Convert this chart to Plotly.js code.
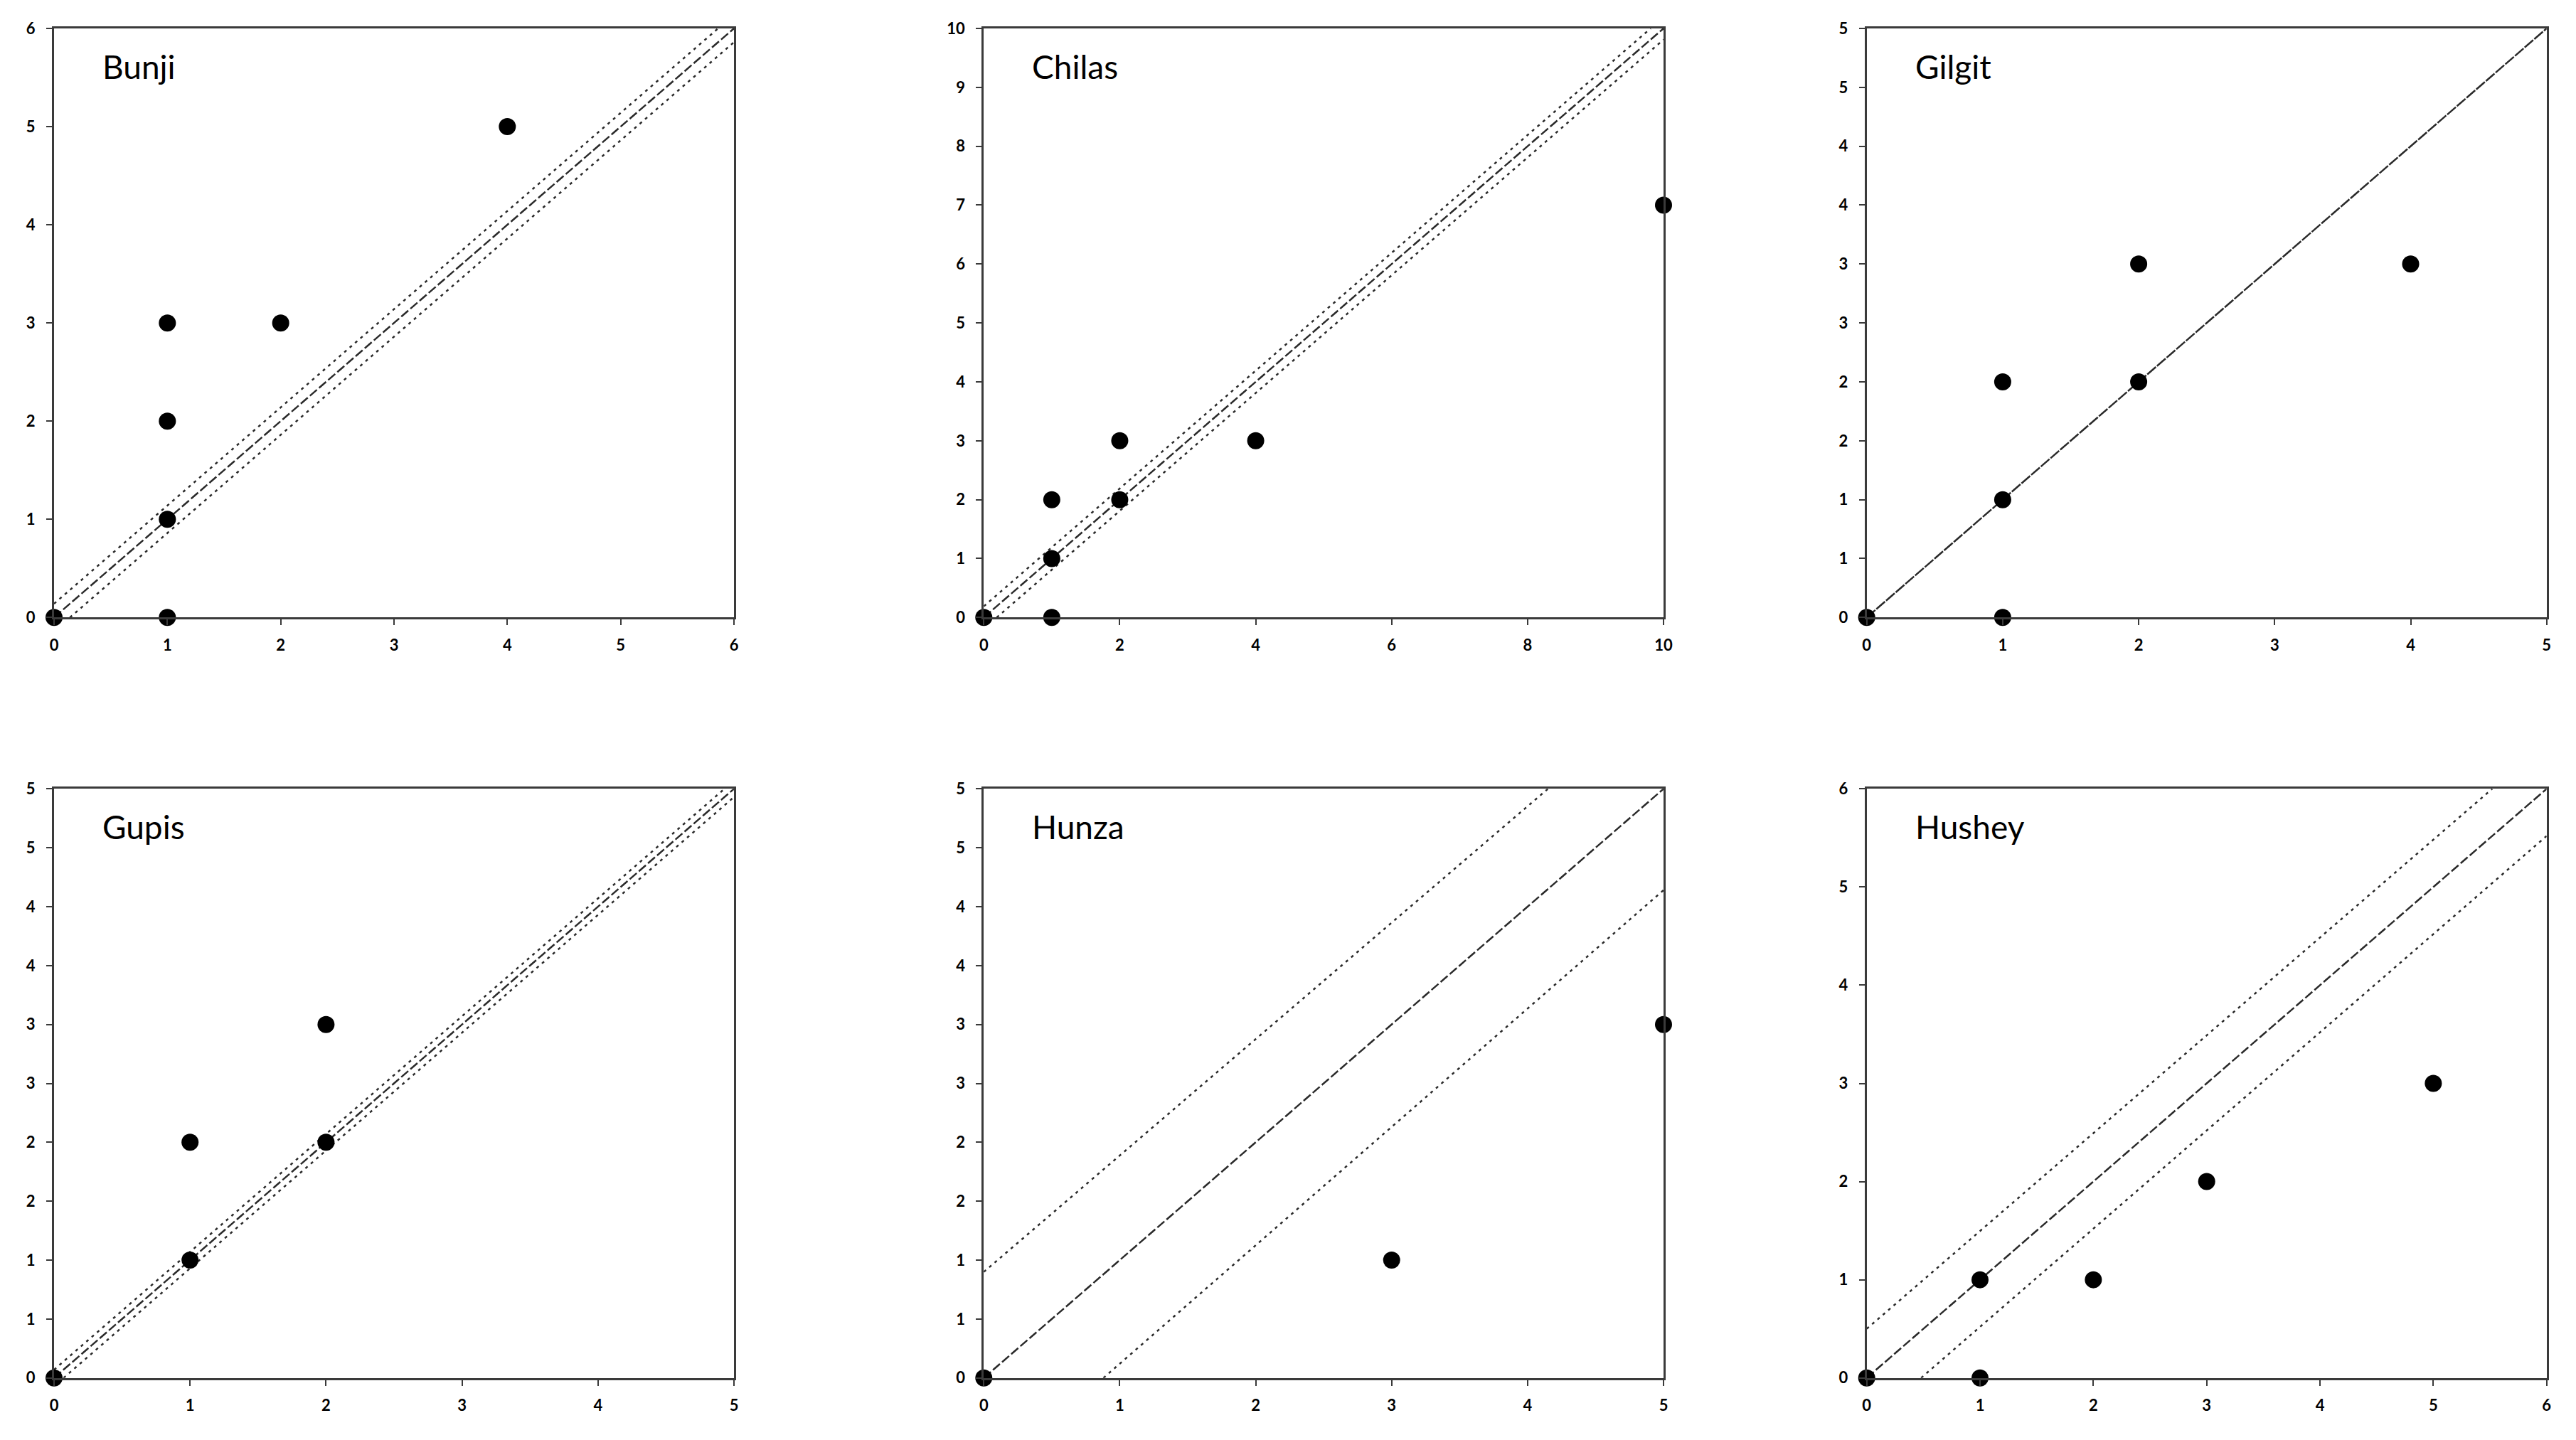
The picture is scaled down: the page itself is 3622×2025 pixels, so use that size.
<!DOCTYPE html>
<html>
<head>
<meta charset="utf-8">
<script src="https://cdn.plot.ly/plotly-3.0.1.min.js"></script>
<style>html,body{margin:0;padding:0;background:#fff;}#chart{width:3622px;height:2025px;}</style>
</head>
<body>
<div id="chart"></div>
<script>
// ---- Data ----
const stations = ["Bunji", "Chilas", "Gilgit", "Gupis", "Hunza", "Hushey"];

// observed points (x, y)
const bunjiX  = [0, 1, 1, 1, 1, 2, 4];
const bunjiY  = [0, 0, 1, 2, 3, 3, 5];
const chilasX = [0, 1, 1, 1, 2, 2, 4, 10];
const chilasY = [0, 0, 1, 2, 2, 3, 3, 7];
const gilgitX = [0, 1, 1, 1, 2, 2, 4];
const gilgitY = [0, 0, 1, 2, 2, 3, 3];
const gupisX  = [0, 1, 1, 2, 2];
const gupisY  = [0, 1, 2, 2, 3];
const hunzaX  = [0, 3, 5];
const hunzaY  = [0, 1, 3];
const husheyX = [0, 1, 1, 2, 3, 5];
const husheyY = [0, 0, 1, 1, 2, 3];

// 1:1 line endpoints and confidence-band endpoints (x0, y0, x1, y1)
const bunjiCenter  = [0, 0, 6, 6];
const bunjiUpper   = [0, 0.14, 5.86, 6];
const bunjiLower   = [0.14, 0, 6, 5.86];
const chilasCenter = [0, 0, 10, 10];
const chilasUpper  = [0, 0.19, 9.81, 10];
const chilasLower  = [0.19, 0, 10, 9.81];
const gilgitCenter = [0, 0, 5, 5];
const gupisCenter  = [0, 0, 5, 5];
const gupisUpper   = [0, 0.07, 4.93, 5];
const gupisLower   = [0.07, 0, 5, 4.93];
const hunzaCenter  = [0, 0, 5, 5];
const hunzaUpper   = [0, 0.9, 4.15, 5];
const hunzaLower   = [0.88, 0, 5, 4.14];
const husheyCenter = [0, 0, 6, 6];
const husheyUpper  = [0, 0.5, 5.52, 6];
const husheyLower  = [0.48, 0, 6, 5.52];

// axis ranges
const axisMax = [6, 10, 5, 5, 5, 6];

// tick values and labels
const ticks0to6    = [0, 1, 2, 3, 4, 5, 6];
const ticks0to10x  = [0, 2, 4, 6, 8, 10];
const ticks0to10y  = [0, 1, 2, 3, 4, 5, 6, 7, 8, 9, 10];
const ticks0to5    = [0, 1, 2, 3, 4, 5];
const halfTickVals = [0, 0.5, 1, 1.5, 2, 2.5, 3, 3.5, 4, 4.5, 5];
const halfTickText = ["0", "1", "1", "2", "2", "3", "3", "4", "4", "5", "5"];

// ---- Build figure ----
const panels = [
  {x: bunjiX,  y: bunjiY,  c: bunjiCenter,  u: bunjiUpper,  l: bunjiLower,  xt: ticks0to6,   yt: ticks0to6,    ytt: null},
  {x: chilasX, y: chilasY, c: chilasCenter, u: chilasUpper, l: chilasLower, xt: ticks0to10x, yt: ticks0to10y,  ytt: null},
  {x: gilgitX, y: gilgitY, c: gilgitCenter, u: null,        l: null,        xt: ticks0to5,   yt: halfTickVals, ytt: halfTickText, solidish: true},
  {x: gupisX,  y: gupisY,  c: gupisCenter,  u: gupisUpper,  l: gupisLower,  xt: ticks0to5,   yt: halfTickVals, ytt: halfTickText},
  {x: hunzaX,  y: hunzaY,  c: hunzaCenter,  u: hunzaUpper,  l: hunzaLower,  xt: ticks0to5,   yt: halfTickVals, ytt: halfTickText},
  {x: husheyX, y: husheyY, c: husheyCenter, u: husheyUpper, l: husheyLower, xt: ticks0to6,   yt: ticks0to6,    ytt: null}
];

const W = 3622, H = 2025;
const colPx = [[76, 1032], [1383.3, 2339], [2624.7, 3580.7]];
const rowPx = [[40, 868.3], [1109.3, 1937.7]];

const traces = [];
const layout = {
  width: W, height: H,
  margin: {l: 0, r: 0, t: 0, b: 0},
  paper_bgcolor: "#ffffff",
  plot_bgcolor: "#ffffff",
  showlegend: false,
  annotations: []
};

const tickFont = {family: "Lato, 'Open Sans', sans-serif", size: 22, color: "#000", weight: "bold"};

panels.forEach((p, i) => {
  const n = i + 1;
  const xa = n === 1 ? "x" : "x" + n;
  const ya = n === 1 ? "y" : "y" + n;
  const col = i % 3, row = Math.floor(i / 3);
  const seg = (arr) => ({x: [arr[0], arr[2]], y: [arr[1], arr[3]]});

  const c = seg(p.c);
  traces.push({
    type: "scatter", mode: "lines", x: c.x, y: c.y, xaxis: xa, yaxis: ya,
    line: {color: "#2a2a2a", width: 2.5, dash: p.solidish ? "16px,2px" : "13px,4px"},
    hoverinfo: "skip"
  });
  [p.u, p.l].forEach(b => {
    if (!b) return;
    const s = seg(b);
    traces.push({
      type: "scatter", mode: "lines", x: s.x, y: s.y, xaxis: xa, yaxis: ya,
      line: {color: "#2a2a2a", width: 2.5, dash: "4px,6px"},
      hoverinfo: "skip"
    });
  });
  traces.push({
    type: "scatter", mode: "markers", x: p.x, y: p.y, xaxis: xa, yaxis: ya,
    marker: {color: "#000", size: 24, symbol: "circle"},
    cliponaxis: false
  });

  const xKey = n === 1 ? "xaxis" : "xaxis" + n;
  const yKey = n === 1 ? "yaxis" : "yaxis" + n;
  const common = {
    showgrid: false, zeroline: false, showline: true, mirror: true,
    linecolor: "#3a3a3a", linewidth: 3,
    ticks: "outside", ticklen: 8, tickwidth: 2, tickcolor: "#3a3a3a",
    tickfont: tickFont, range: [0, axisMax[i]], fixedrange: true
  };
  layout[xKey] = Object.assign({}, common, {
    domain: [colPx[col][0] / W, colPx[col][1] / W],
    anchor: ya, tickmode: "array", tickvals: p.xt, ticktext: p.xt.map(String),
    ticklabelstandoff: 9
  });
  layout[yKey] = Object.assign({}, common, {
    domain: [1 - rowPx[row][1] / H, 1 - rowPx[row][0] / H],
    anchor: xa, tickmode: "array", tickvals: p.yt,
    ticktext: p.ytt ? p.ytt : p.yt.map(String),
    ticklabelstandoff: 11
  });
  layout.annotations.push({
    text: stations[i], showarrow: false,
    xref: xa + " domain", yref: ya + " domain",
    x: 0.069, y: 0.936, xanchor: "left", yanchor: "middle",
    font: {family: "Lato, 'Open Sans', sans-serif", size: 46, color: "#000"}
  });
});

Plotly.newPlot("chart", traces, layout, {staticPlot: true, displayModeBar: false});
</script>
</body>
</html>
